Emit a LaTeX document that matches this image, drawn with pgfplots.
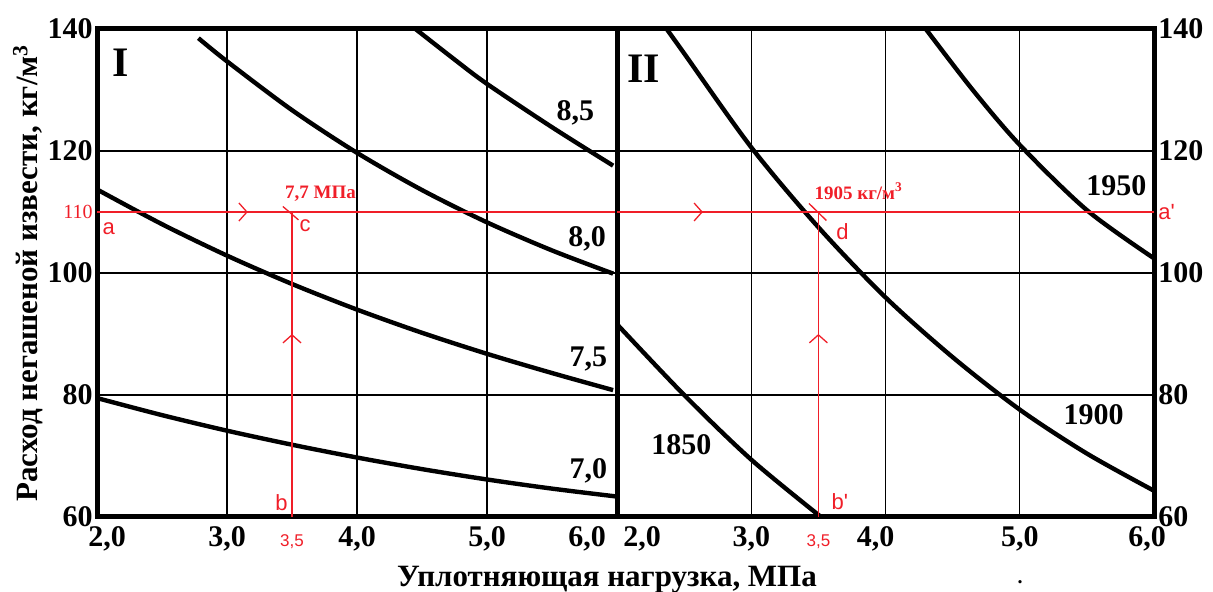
\documentclass[border=0pt]{standalone}
\usepackage{fontspec}
\setmainfont{Liberation Serif}
\newfontfamily\redsans{Liberation Sans}
\usepackage{pgfplots}
\pgfplotsset{compat=1.18}
\usetikzlibrary{arrows.meta,decorations.markings}
\definecolor{annred}{RGB}{240,30,40}

\begin{document}
\begin{tikzpicture}
\pgfplotsset{
  panel/.style={
    scale only axis, height=244pt, ymin=60, ymax=140, xmin=2, xmax=6,
    axis line style={line width=2.5pt, line cap=rect},
    grid=major, major grid style={line width=0.65pt, black},
    xtick={3,4,5}, ytick={60,80,100,120,140},
    major tick length=0pt, xticklabels={},
    yticklabel style={font=\fontsize{15}{15}\selectfont\bfseries, inner xsep=2pt},
    /pgf/number format/assume math mode=true,
    clip=false,
  },
  curve/.style={line width=2.2pt, black, smooth, no markers},
  redline/.style={line width=0.65pt, annred, no markers},
}
\tikzset{
  lab/.style={font=\fontsize{15}{15}\selectfont\bfseries},
  xtl/.style={font=\fontsize{15}{15}\selectfont\bfseries, anchor=base, yshift=-15pt},
  rlab/.style={text=annred, font=\redsans\fontsize{11}{11}\selectfont},
}
% ---------------- Panel I ----------------
\begin{axis}[panel, width=260pt, at={(48.5pt,37.5pt)}, anchor=south west]
% 7,0
\addplot[curve] coordinates {(2.0,79.5) (2.5,76.7) (3.0,74.15) (3.5,71.85) (4.0,69.75) (4.5,67.85) (5.0,66.15) (5.5,64.65) (6.0,63.35)};
% 7,5
\addplot[curve] coordinates {(2.0,113.7) (2.5,108.0) (3.0,102.85) (3.5,98.2) (4.0,94.0) (4.5,90.2) (5.0,86.75) (5.5,83.6) (5.97,80.8)};
% 8,0
\addplot[curve] coordinates {(2.78,138.5) (3.0,134.7) (3.5,126.7) (4.0,119.7) (4.5,113.6) (5.0,108.3) (5.5,103.7) (5.97,99.9)};
% 8,5
\addplot[curve] coordinates {(4.45,140) (4.75,135.0) (5.0,131.0) (5.5,123.9) (5.97,117.6)};
% red construction lines
\addplot[redline, postaction={decorate}, decoration={markings, mark=at position 0.29 with {\arrow{Straight Barb[length=4pt,width=9pt]}}}] coordinates {(2,110) (6,110)};
\addplot[redline, postaction={decorate}, decoration={markings, mark=at position 0.6 with {\arrow{Straight Barb[length=4pt,width=9pt]}}}] coordinates {(3.5,60) (3.5,110)};
\addplot[redline] coordinates {(3.43,110.9) (3.55,108.7)};
% labels
\node[font=\fontsize{21}{21}\selectfont\bfseries] at (axis cs:2.18,134.5) {I};
\node[lab] at (axis cs:5.68,126.2) {8,5};
\node[lab] at (axis cs:5.77,105.6) {8,0};
\node[lab] at (axis cs:5.78,85.9) {7,5};
\node[lab] at (axis cs:5.78,67.6) {7,0};
\node[text=annred, font=\fontsize{10}{10}\selectfont, anchor=east, inner xsep=2pt] at (axis cs:2,110) {110};
\node[rlab] at (axis cs:2.09,107.2) {a};
\node[rlab] at (axis cs:3.42,62.3) {b};
\node[rlab] at (axis cs:3.6,107.7) {c};
\node[text=annred, font=\fontsize{9.5}{9.5}\selectfont\bfseries] at (axis cs:3.72,113.0) {7,7 МПа};
\node[text=annred, font=\redsans\fontsize{8.5}{8.5}\selectfont, anchor=base, yshift=-15pt] at (axis cs:3.5,60) {3,5};
\node[xtl, xshift=5pt] at (axis cs:2,60) {2,0};
\node[xtl] at (axis cs:3,60) {3,0};
\node[xtl] at (axis cs:4,60) {4,0};
\node[xtl] at (axis cs:5,60) {5,0};
\node[xtl, xshift=-15pt] at (axis cs:6,60) {6,0};
\end{axis}
% ---------------- Panel II ----------------
\begin{axis}[panel, width=268.5pt, at={(308.5pt,37.5pt)}, anchor=south west, yticklabel pos=right]
% 1850
\addplot[curve] coordinates {(2.0,91.6) (2.5,80.0) (3.0,69.4) (3.52,60)};
% 1900
\addplot[curve] coordinates {(2.37,140) (2.5,136.0) (3.0,120.6) (3.5,107.5) (4.0,96.0) (4.5,86.2) (5.0,77.6) (5.5,70.4) (6.0,64.3)};
% 1950
\addplot[curve] coordinates {(4.3,140) (4.65,130.0) (5.0,121.0) (5.5,110.3) (6.0,102.4)};
\addplot[redline, postaction={decorate}, decoration={markings, mark=at position 0.16 with {\arrow{Straight Barb[length=4pt,width=9pt]}}}] coordinates {(2,110) (6,110)};
\addplot[redline, postaction={decorate}, decoration={markings, mark=at position 0.6 with {\arrow{Straight Barb[length=4pt,width=9pt]}}}] coordinates {(3.5,60) (3.5,110)};
\addplot[redline] coordinates {(3.43,111.4) (3.56,108.6)};
\node[font=\fontsize{21}{21}\selectfont\bfseries] at (axis cs:2.2,133.5) {II};
\node[lab] at (axis cs:2.48,71.9) {1850};
\node[lab] at (axis cs:5.55,76.8) {1900};
\node[lab] at (axis cs:5.72,114.3) {1950};
\node[text=annred, font=\fontsize{9.5}{9.5}\selectfont\bfseries] at (axis cs:3.8,113.4) {1905 кг/м\textsuperscript{3}};
\node[rlab] at (axis cs:3.68,106.8) {d};
\node[rlab] at (axis cs:3.66,62.5) {b'};
\node[rlab, anchor=west, inner xsep=2pt] at (axis cs:6,110) {a'};
\node[text=annred, font=\redsans\fontsize{8.5}{8.5}\selectfont, anchor=base, yshift=-15pt] at (axis cs:3.5,60) {3,5};
\node[xtl, xshift=12.5pt] at (axis cs:2,60) {2,0};
\node[xtl] at (axis cs:3,60) {3,0};
\node[xtl, xshift=-5pt] at (axis cs:4,60) {4,0};
\node[xtl] at (axis cs:5,60) {5,0};
\node[xtl, xshift=-3.5pt] at (axis cs:6,60) {6,0};
\end{axis}
% axis titles
\node[font=\fontsize{15.5}{15.5}\selectfont\bfseries, anchor=base] at (303.5pt,2.5pt) {Уплотняющая нагрузка, МПа};
\node[font=\fontsize{15.5}{15.5}\selectfont\bfseries, rotate=90] at (14pt,159.5pt) {Расход негашеной извести, кг/м\textsuperscript{3}};
\node[font=\fontsize{10}{10}\selectfont\bfseries] at (510pt,5pt) {.};
\pgfresetboundingbox
\path[use as bounding box] (0,0) rectangle (606.5pt,296pt);
\end{tikzpicture}
\end{document}
